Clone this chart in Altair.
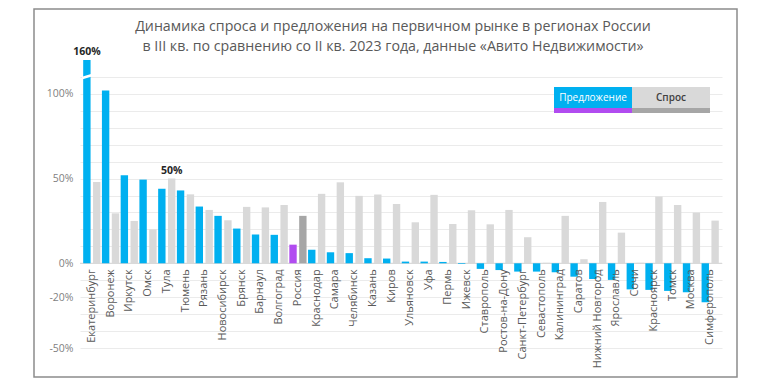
import altair as alt
import pandas as pd

regions = ["Екатеринбург", "Воронеж", "Иркутск", "Омск", "Тула", "Тюмень", "Рязань",
           "Новосибирск", "Брянск", "Барнаул", "Волгоград", "Россия", "Краснодар", "Самара",
           "Челябинск", "Казань", "Киров", "Ульяновск", "Уфа", "Пермь", "Ижевск",
           "Ставрополь", "Ростов-на-Дону", "Санкт-Петербург", "Севастополь", "Калининград",
           "Саратов", "Нижний Новгород", "Ярославль", "Сочи", "Красноярск", "Томск",
           "Москва", "Симферополь"]
supply = [160, 102, 52, 49.4, 44, 43, 33.5, 28, 20.5, 17, 16.8, 11, 8, 6.5, 6, 3, 2.8,
          1, 1, 0.8, -0.4, -3.3, -4, -4.9, -4.9, -5.3, -7.9, -9.3, -9.8, -15.4, -15.7,
          -16.3, -17.1, -23]
demand = [48, 29.5, 25, 20, 50, 40.7, 31.5, 25.4, 33.3, 33, 34.4, 28, 41, 47.8, 39.8,
          40.6, 35, 24.2, 40.4, 23.2, 31.3, 23, 31.5, 15.4, 0.3, 28, 2.4, 36.2, 18.1, 0.3,
          39.4, 34.4, 29.9, 25.2]
highlight = "Россия"
series_names = ["Предложение", "Спрос"]
y_labels = [-50, -20, 0, 50, 100]
grid_values = [-50, -40, -30, -20, -10, 0, 10, 20, 30, 40, 50, 60, 70, 80, 90, 100, 110]
annotations = [("Екатеринбург", "Предложение", 160, "160%"), ("Тула", "Спрос", 50, "50%")]
title_lines = ["Динамика спроса и предложения на первичном рынке в регионах России",
               "в III кв. по сравнению со II кв. 2023 года, данные «Авито Недвижимости»"]

rows = []
for r, s, d in zip(regions, supply, demand):
    rows.append({"region": r, "series": series_names[0], "value": s,
                 "kind": "sup_hl" if r == highlight else "sup"})
    rows.append({"region": r, "series": series_names[1], "value": d,
                 "kind": "dem_hl" if r == highlight else "dem"})
df = pd.DataFrame(rows)

FONT = "Open Sans"
W, H = 642, 288

xscale = alt.Scale(paddingInner=0.08, paddingOuter=0.17)
yscale = alt.Scale(domain=[-50, 120], clamp=True, nice=False)
label_expr = ("indexof([" + ",".join(str(v) for v in y_labels) +
              "], datum.value) >= 0 ? datum.value + '%' : ''")
yax = alt.Axis(values=grid_values, labelExpr=label_expr, grid=True, gridColor="#ebebeb",
               gridWidth=1, domain=False, ticks=False, labelColor="#7f7f7f",
               labelFontSize=10.5, labelFont=FONT, labelPadding=7, title=None)
offscale = alt.Scale(domain=series_names, paddingInner=0.25)


def X():
    return alt.X("region:N", sort=regions, scale=xscale, axis=None)


bars = alt.Chart(df).mark_bar().encode(
    x=X(),
    xOffset=alt.XOffset("series:N", scale=offscale),
    y=alt.Y("value:Q", scale=yscale, axis=yax),
    color=alt.Color("kind:N",
                    scale=alt.Scale(domain=["sup", "dem", "sup_hl", "dem_hl"],
                                    range=["#00B0F0", "#D9D9D9", "#B14CF0", "#A6A6A6"]),
                    legend=None),
)

zero = alt.Chart(pd.DataFrame({"v": [0]})).mark_rule(color="#d4d4d4", strokeWidth=1).encode(
    y=alt.Y("v:Q", scale=yscale, axis=yax)
)

xlabels = alt.Chart(pd.DataFrame({"region": regions, "v": [0] * len(regions)})).mark_text(
    angle=270, align="right", baseline="middle", dx=-6, font=FONT, fontSize=11,
    color="#595959"
).encode(
    x=X(),
    y=alt.Y("v:Q", scale=yscale, axis=yax),
    text="region:N",
)

ann_df = pd.DataFrame(annotations, columns=["region", "series", "value", "label"])
ann = alt.Chart(ann_df).mark_text(
    dy=-8, font=FONT, fontSize=10.5, fontWeight="bold", color="#262626", baseline="middle"
).encode(
    x=X(),
    xOffset=alt.XOffset("series:N", scale=offscale),
    y=alt.Y("value:Q", scale=yscale, axis=yax),
    text="label:N",
)

brk = alt.Chart(ann_df.iloc[[0]].assign(b=111)).mark_point(
    shape="M -1 0.3 L 1 -0.3 L 1 0.25 L -1 0.85 Z", filled=True, fill="white",
    opacity=1, size=100, strokeWidth=0
).encode(
    x=X(),
    xOffset=alt.XOffset("series:N", scale=offscale),
    y=alt.Y("b:Q", scale=yscale, axis=yax),
)

one = pd.DataFrame({"a": [0]})

frame = alt.Chart(one).mark_rect(fillOpacity=0, stroke="#8c8c8c", strokeWidth=1.5).encode(
    x=alt.value(-46), x2=alt.value(657), y=alt.value(-51), y2=alt.value(317)
)

title1 = alt.Chart(one).mark_text(font=FONT, fontSize=14.2, color="#595959").encode(
    x=alt.value(313), y=alt.value(-33), text=alt.value(title_lines[0]))
title2 = alt.Chart(one).mark_text(font=FONT, fontSize=14.2, color="#595959").encode(
    x=alt.value(313), y=alt.value(-13), text=alt.value(title_lines[1]))

leg_sup = alt.Chart(one).mark_rect(color="#00B0F0").encode(
    x=alt.value(474), x2=alt.value(552), y=alt.value(27), y2=alt.value(48))
leg_sup2 = alt.Chart(one).mark_rect(color="#B14CF0").encode(
    x=alt.value(474), x2=alt.value(552), y=alt.value(48), y2=alt.value(53))
leg_dem = alt.Chart(one).mark_rect(color="#D9D9D9").encode(
    x=alt.value(552), x2=alt.value(630), y=alt.value(27), y2=alt.value(48))
leg_dem2 = alt.Chart(one).mark_rect(color="#A6A6A6").encode(
    x=alt.value(552), x2=alt.value(630), y=alt.value(48), y2=alt.value(53))
leg_t1 = alt.Chart(one).mark_text(font=FONT, fontSize=10, color="white").encode(
    x=alt.value(513), y=alt.value(37.5), text=alt.value(series_names[0]))
leg_t2 = alt.Chart(one).mark_text(font=FONT, fontSize=10, color="#404040",
                                  fontWeight=600).encode(
    x=alt.value(591), y=alt.value(37.5), text=alt.value(series_names[1]))

chart = alt.layer(
    zero, bars, brk, xlabels, ann, frame, title1, title2,
    leg_sup, leg_sup2, leg_dem, leg_dem2, leg_t1, leg_t2
).properties(
    width=W, height=H,
    autosize=alt.AutoSizeParams(type="none"),
    padding={"left": 72, "top": 52, "right": 20, "bottom": 32},
).configure_view(stroke=None)

chart.save("out.html", embed_options={"renderer": "svg", "actions": False})
